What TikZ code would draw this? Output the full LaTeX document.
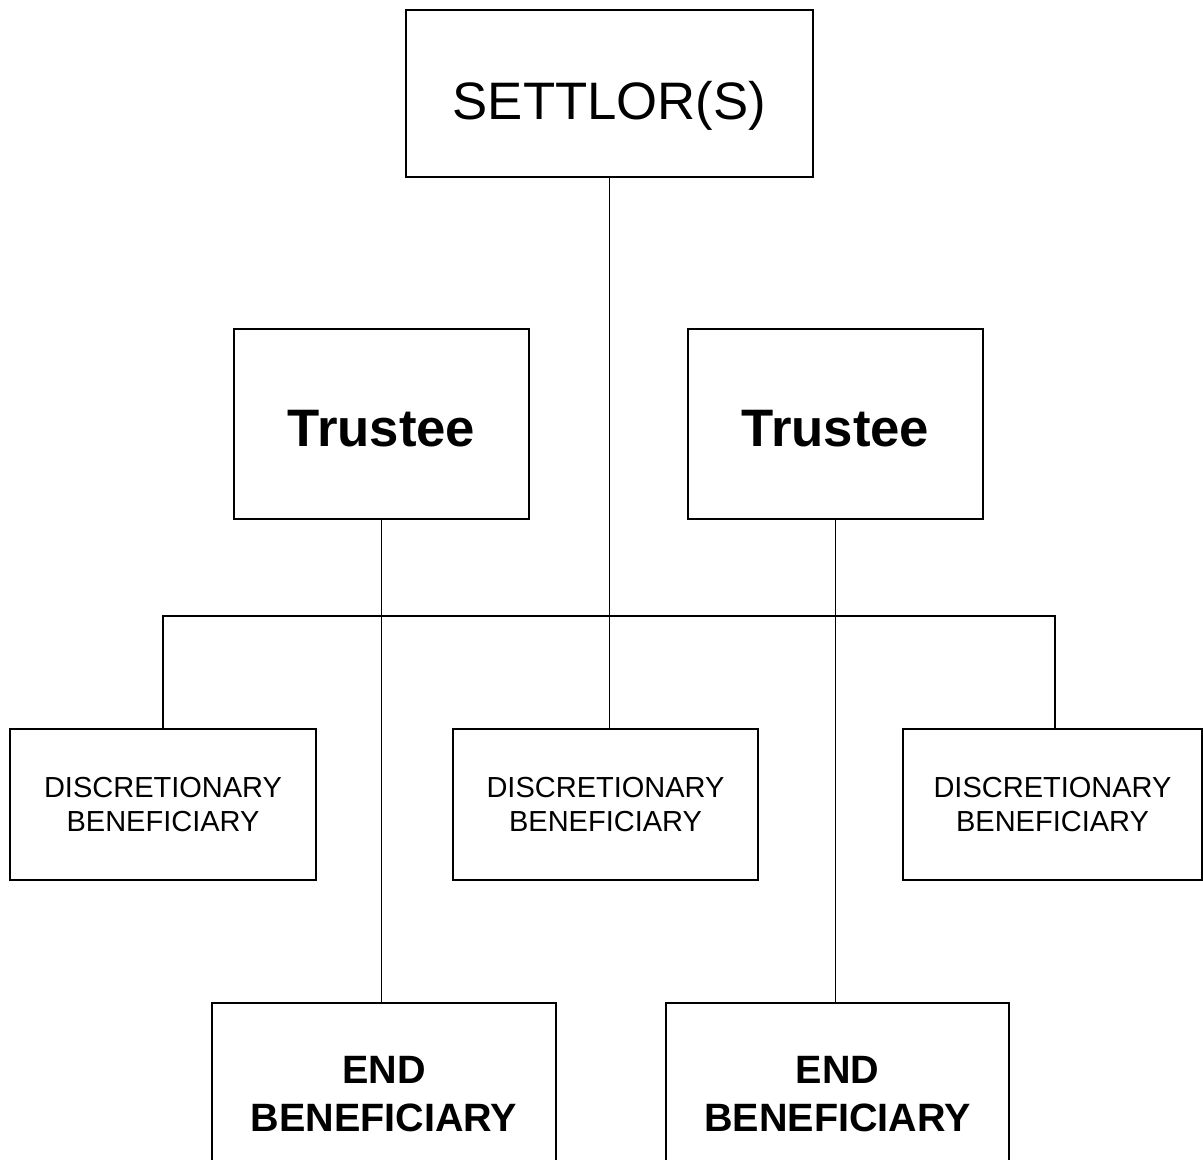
\documentclass[tikz,border=0pt]{standalone}
\usepackage{fontspec}
\setmainfont{Liberation Sans}
\usepackage{tikz}
\usetikzlibrary{positioning}

\begin{document}
\begin{tikzpicture}[
  box/.style={rectangle,draw=black,line width=1.1pt,text centered,align=center},
  lnk/.style={draw=black,line width=1.1pt}]
  \useasboundingbox (0,0) rectangle (24.06,-23.2);
  \clip (0,0) rectangle (24.06,-23.2);
  % top
  \node[box,minimum width=8.14cm,minimum height=3.34cm,text height=30pt,text depth=0pt,
        font=\fontsize{30}{36}\selectfont] (settlor) at (12.19,-1.87) {SETTLOR(S)};
  % trustees
  \node[box,minimum width=5.9cm,minimum height=3.8cm,text height=26pt,text depth=0pt,
        font=\fontsize{30}{36}\selectfont\bfseries] (trL) at (7.63,-8.48) {Trustee};
  \node[box,minimum width=5.9cm,minimum height=3.8cm,text height=26pt,text depth=0pt,
        font=\fontsize{30}{36}\selectfont\bfseries] (trR) at (16.71,-8.48) {Trustee};
  % discretionary beneficiaries
  \node[box,minimum width=6.12cm,minimum height=3.02cm,
        font=\fontsize{16.5}{19.3}\selectfont] (dbL) at (3.26,-16.09) {DISCRETIONARY\\BENEFICIARY};
  \node[box,minimum width=6.1cm,minimum height=3.02cm,
        font=\fontsize{16.5}{19.3}\selectfont] (dbM) at (12.11,-16.09) {DISCRETIONARY\\BENEFICIARY};
  \node[box,minimum width=5.98cm,minimum height=3.02cm,
        font=\fontsize{16.5}{19.3}\selectfont] (dbR) at (21.05,-16.09) {DISCRETIONARY\\BENEFICIARY};
  % end beneficiaries
  \node[box,minimum width=6.88cm,minimum height=3.64cm,
        font=\fontsize{22.5}{27.3}\selectfont\bfseries] (endL) at (7.68,-21.88) {END\\BENEFICIARY};
  \node[box,minimum width=6.86cm,minimum height=3.64cm,
        font=\fontsize{22.5}{27.3}\selectfont\bfseries] (endR) at (16.75,-21.88) {END\\BENEFICIARY};
  \coordinate (bus) at (0,-12.32);
  \coordinate (busR) at (21.1,-12.32);
  \draw[lnk](settlor.south)--(settlor.south|-dbM.north);
  \draw[lnk](dbL.north)--(dbL.north|-bus)--(busR)--(busR|-dbR.north);
  \draw[lnk](trL.south)--(trL.south|-endL.north);
  \draw[lnk](trR.south)--(trR.south|-endR.north);
\end{tikzpicture}
\end{document}
